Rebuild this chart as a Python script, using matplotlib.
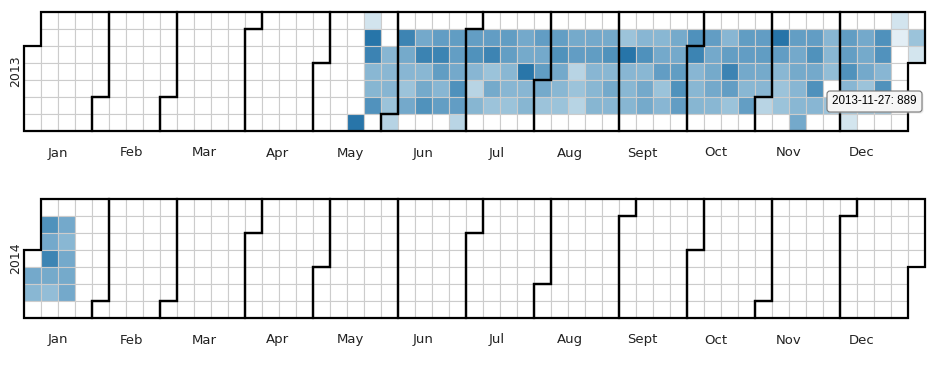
import datetime as dt
import matplotlib
matplotlib.use("Agg")
import matplotlib.pyplot as plt
from matplotlib.patches import Rectangle, Polygon, FancyBboxPatch
from matplotlib.colors import LinearSegmentedColormap, Normalize

# ---------------- data ----------------
years = [2013, 2014]
month_labels = ["Jan", "Feb", "Mar", "Apr", "May", "Jun",
                "Jul", "Aug", "Sept", "Oct", "Nov", "Dec"]

start_2013 = "2013-05-18"
values_2013 = [
    2270,
    260, 2280, 2020, 1000, 1020, 1750, None,
    None, None, 1010, 990, 1030, 770, 520,
    None, 2000, 1250, 1010, 760, 1270, None,
    None, 1260, 2030, 1000, 1250, 1760, None,
    None, 1510, 2010, 1520, 1010, 1500, None,
    None, 1520, 1500, 1260, 1770, 1510, 490,
    None, 1500, 1760, 1010, 500, 1020, None,
    None, 1510, 2000, 770, 1250, 760, None,
    None, 1520, 1500, 1000, 1010, 770, None,
    None, 1260, 1250, 2260, 1010, 1020, None,
    None, 1510, 1260, 1520, 1250, 760, None,
    None, 1500, 1760, 1260, 1000, 770, None,
    None, 1250, 1510, 500, 760, 510, None,
    None, 1260, 1520, 1010, 1000, 1020, None,
    None, 1250, 1760, 1000, 1260, 1010, None,
    None, 760, 2280, 1010, 1000, 1020, None,
    None, 1010, 1770, 1000, 1260, 1250, None,
    None, 1000, 1260, 1510, 770, 1010, None,
    None, 1250, 1260, 1520, 1760, 1510, None,
    None, 1770, 2010, 1010, 1000, 1020, None,
    None, 1510, 1260, 1250, 1270, 1000, None,
    None, 1010, 1500, 2020, 1510, 770, None,
    None, 1520, 1510, 1260, 1000, 1500, None,
    None, 1510, 1520, 1250, 1010, 500, None,
    None, 2290, 1510, 1000, 760, 770, None,
    None, 1500, 1260, 1250, 1010, 1000, 1260,
    None, 1510, 1760, 1260, 1770, 1010, None,
    None, 1010, 1000, 889, None, 760, None,
    None, 1520, 1500, 1760, 1010, 1000, 250,
    None, 1260, 1250, 1270, 760, 1010, None,
    None, 1770, 1750, 1010, 1760, 1000, None,
    260, 100, None, None, None, None, None,
    None, 770, 250,
]

start_2014 = "2014-01-01"
values_2014 = [
    None, 1260, 1000, None,
    None, 1760, 1260, 2000, 1250, 880, None,
    None, 1260, 1000, 1260, 1250, 1270,
]

tooltip_date = "2013-11-27"

# ---------------- layout / style ----------------
W, H = 944, 370
CS = 17
X0 = 24
Y0 = {2013: 12, 2014: 199}

cmap = LinearSegmentedColormap.from_list(
    "blues_cal",
    [(0.0, "#eef5f9"), (0.11, "#d2e4ee"), (0.33, "#9cc3da"),
     (0.55, "#74a9cb"), (0.77, "#4f91bc"), (1.0, "#2674a8")])
norm = Normalize(vmin=0, vmax=2300)

fig = plt.figure(figsize=(W / 100, H / 100), dpi=100)
ax = fig.add_axes([0, 0, 1, 1])
ax.set_xlim(0, W)
ax.set_ylim(H, 0)
ax.axis("off")


def cell(d):
    jan1 = dt.date(d.year, 1, 1)
    off = (jan1.weekday() + 1) % 7
    doy = (d - jan1).days
    return (doy + off) // 7, (d.weekday() + 1) % 7


def series_dict(start, vals):
    s = dt.date.fromisoformat(start)
    return {s + dt.timedelta(days=i): v for i, v in enumerate(vals)}


data = {}
data.update(series_dict(start_2013, values_2013))
data.update(series_dict(start_2014, values_2014))

for yr in years:
    y0 = Y0[yr]
    d = dt.date(yr, 1, 1)
    while d.year == yr:
        c, r = cell(d)
        v = data.get(d)
        fc = "white" if v is None else cmap(norm(v))
        ax.add_patch(Rectangle((X0 + c * CS, y0 + r * CS), CS, CS,
                               facecolor=fc, edgecolor="#cccccc",
                               linewidth=0.8, zorder=1))
        d += dt.timedelta(days=1)

    # month outlines
    for m in range(1, 13):
        t0 = dt.date(yr, m, 1)
        t1 = (dt.date(yr + (m == 12), (m % 12) + 1, 1) - dt.timedelta(days=1))
        w0, d0 = cell(t0)
        w1, d1 = cell(t1)
        pts = [(w0 + 1, d0), (w0, d0), (w0, 7), (w1, 7), (w1, d1 + 1),
               (w1 + 1, d1 + 1), (w1 + 1, 0), (w0 + 1, 0)]
        pts = [(X0 + px * CS, y0 + py * CS) for px, py in pts]
        ax.add_patch(Polygon(pts, closed=True, fill=False, edgecolor="black",
                             linewidth=1.6, joinstyle="miter", zorder=3))

    # year label
    ax.text(15.7, y0 + 3.5 * CS, str(yr), rotation=90, ha="center",
            va="center", fontsize=9, color="#222222",
            family="DejaVu Sans")

    # month labels
    for i, lab in enumerate(month_labels):
        ax.text(58 + i * CS * 4.3, y0 + 141, lab, ha="center", va="center",
                fontsize=9.5, color="#222222", family="DejaVu Sans")

# tooltip
td = dt.date.fromisoformat(tooltip_date)
tv = data[td]
ax.add_patch(FancyBboxPatch((828.5, 92.5), 95, 21,
                            boxstyle="round,pad=0,rounding_size=3",
                            facecolor="#dddddd", edgecolor="none",
                            alpha=0.6, zorder=4))
ax.add_patch(FancyBboxPatch((827, 91), 95, 21,
                            boxstyle="round,pad=0,rounding_size=3",
                            facecolor="#f6f6f6", edgecolor="#777777",
                            linewidth=0.8, zorder=5))
ax.text(874.5, 101.5, f"{tooltip_date}: {tv}", ha="center", va="center",
        fontsize=8.4, family="Liberation Sans", color="black", zorder=6)

fig.savefig("out.png", dpi=100)
